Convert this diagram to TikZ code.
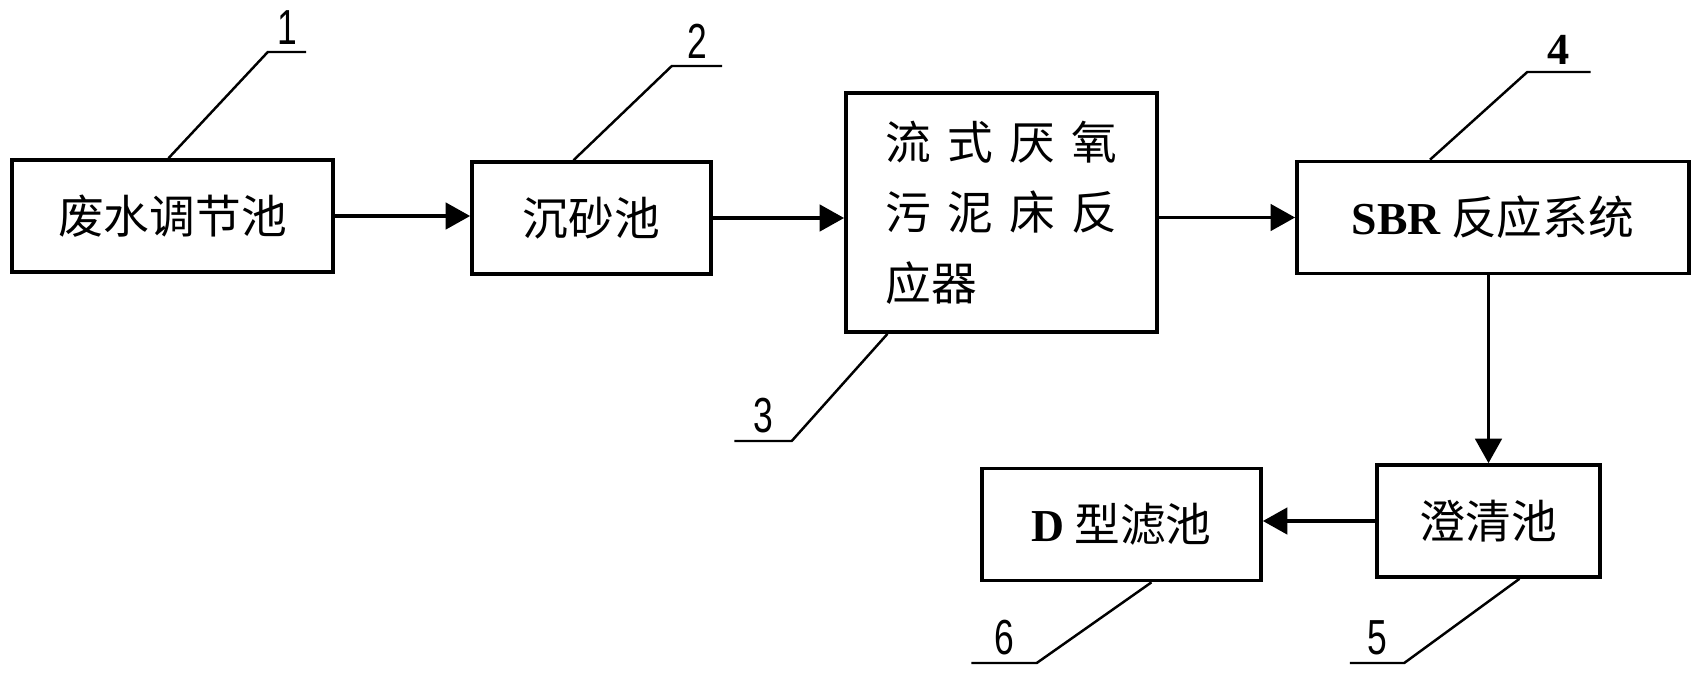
\documentclass[tikz,border=0pt]{standalone}
\usepackage{fontspec}
\usepackage{graphicx}
\setmainfont{Liberation Serif}
\newfontfamily\cjk{Noto Sans CJK SC}
\newfontfamily\tagfont{Liberation Sans}
\usetikzlibrary{arrows.meta,calc}
\newcommand{\tagnum}[1]{\scalebox{0.72}[1]{#1}}

\tikzset{
  tank/.style={draw, line width=1pt, minimum height=1.12cm, inner sep=0pt,
    font=\cjk\fontsize{13pt}{20pt}\selectfont},
  flow/.style={line width=1.1pt, -{Triangle[length=7pt,width=7.5pt]}},
  lead/.style={line width=0.7pt},
  tag/.style={anchor=south, inner xsep=0pt, inner ysep=2pt,
    font=\tagfont\fontsize{14pt}{14pt}\selectfont},
}

\begin{document}
\begin{tikzpicture}[x=0.01cm,y=-0.01cm]
  \useasboundingbox (0,0) rectangle (1702,678);

  \begin{scope}
    \node[tank, minimum width=3.21cm] (b1) at (172.5,216)  {废水调节池};
    \node[tank, minimum width=2.39cm] (b2) at (591.5,218)  {沉砂池};
    \node[tank, minimum width=3.11cm, minimum height=2.39cm, align=left] (b3) at (1001.5,212.5)
      {\makebox[2.31cm]{流\hfill 式\hfill 厌\hfill 氧}\\
       \makebox[2.31cm]{污\hfill 泥\hfill 床\hfill 反}\\
       \makebox[2.31cm][l]{应器}};
    \node[tank, minimum width=3.92cm] (b4) at (1493,217.5) {{\rmfamily\bfseries SBR} 反应系统};
    \node[tank, minimum width=2.23cm] (b5) at (1488.5,521) {澄清池};
    \node[tank, minimum width=2.79cm] (b6) at (1121.5,524.5) {{\rmfamily\bfseries D} 型滤池};
  \end{scope}

  \begin{scope}
    \draw[flow] (b1.east) -- (b1.east -| b2.west);
    \draw[flow] (b2.east) -- (b2.east -| b3.west);
    \draw[flow] (b3.east |- b4.west) -- (b4.west);
    \draw[flow] (b5.north |- b4.south) -- (b5.north);
    \draw[flow] (b5.west) -- (b5.west -| b6.east);
  \end{scope}

  \begin{scope}
    \node[tag, minimum width=0.37cm] (n1) at (287,52)   {\tagnum{1}};
    \node[tag, minimum width=0.49cm] (n2) at (697,66)   {\tagnum{2}};
    \node[tag, minimum width=0.56cm] (n3) at (763,441)  {\tagnum{3}};
    \node[tag, minimum width=0.62cm,
          font=\rmfamily\bfseries\fontsize{12.6pt}{14pt}\selectfont] (n4) at (1559,72) {4};
    \node[tag, minimum width=0.53cm] (n5) at (1377,663) {\tagnum{5}};
    \node[tag, minimum width=0.64cm] (n6) at (1004,663) {\tagnum{6}};

    \draw[lead] ($(b1.north)+(-4,0)$)   -- (n1.south west) -- (n1.south east);
    \draw[lead] ($(b2.north)+(-18,0)$)  -- (n2.south west) -- (n2.south east);
    \draw[lead] ($(b4.north)+(-63,0)$)  -- (n4.south west) -- (n4.south east);
    \draw[lead] ($(b3.south)+(-114,0)$) -- (n3.south east) -- (n3.south west);
    \draw[lead] ($(b6.south)+(30,0)$)   -- (n6.south east) -- (n6.south west);
    \draw[lead] ($(b5.south)+(31,0)$)   -- (n5.south east) -- (n5.south west);
  \end{scope}

\end{tikzpicture}
\end{document}
